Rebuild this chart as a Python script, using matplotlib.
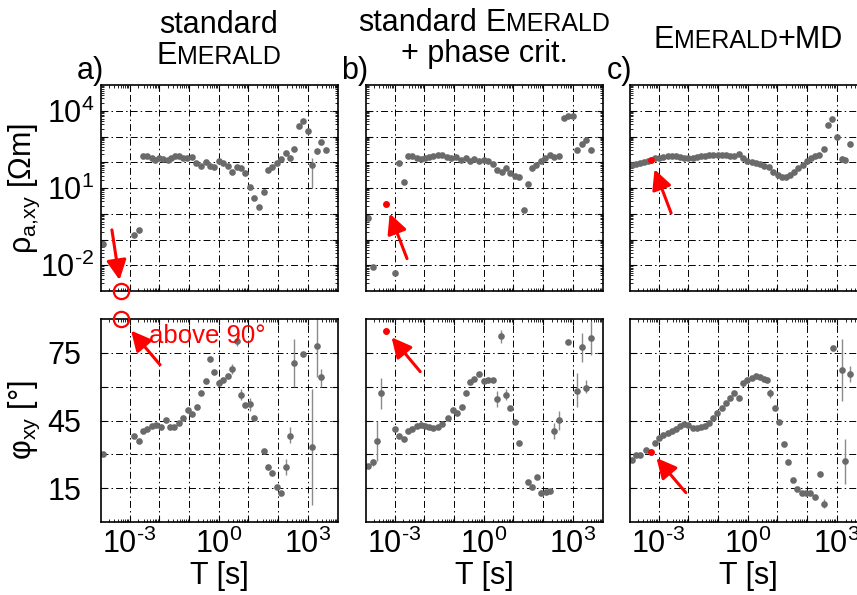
import numpy as np
import matplotlib
matplotlib.use('Agg')
import matplotlib.pyplot as plt
from matplotlib.ticker import FixedLocator, FixedFormatter, LogLocator, NullFormatter

plt.rcParams['font.family'] = ['Liberation Sans', 'DejaVu Sans']
plt.rcParams['font.size'] = 22
plt.rcParams['mathtext.fontset'] = 'custom'
plt.rcParams['mathtext.rm'] = 'Liberation Sans'
plt.rcParams['mathtext.it'] = 'Liberation Sans:italic'
plt.rcParams['mathtext.bf'] = 'Liberation Sans:bold'
plt.rcParams['lines.scale_dashes'] = False

# ---- data (log10 of period T, log10 of rho, phase in degrees) ----
a_rho_T = [-3.88, -2.84, -2.68, -2.56, -2.40, -2.25, -2.14, -2.01, -1.86, -1.71, -1.60, -1.47,
           -1.32, -1.19, -1.05, -0.91, -0.76, -0.59, -0.44, -0.29, -0.14, 0.01, 0.16, 0.31,
           0.46, 0.61, 0.75, 0.90, 1.06, 1.20, 1.35, 1.51, 1.65, 1.80, 1.96, 2.10, 2.25, 2.40,
           2.55, 2.70, 2.85, 3.00, 3.14, 3.30, 3.45, 3.60]
a_rho = [-1.19, -0.82, -0.63, 2.25, 2.25, 2.16, 2.09, 2.15, 2.12, 2.09, 2.16, 2.24,
         2.25, 2.18, 2.15, 2.20, 1.99, 1.86, 2.02, 1.86, 1.82, 2.03, 1.96, 1.86,
         1.63, 1.81, 1.76, 1.60, 1.03, 0.61, 0.28, 0.86, 1.70, 1.83, 1.99, 2.12, 2.35, 2.18,
         2.52, 3.39, 3.61, 3.23, 1.90, 2.42, 2.79, 2.46]
a_rho_bar_T = [2.55, 3.14, 3.30]
a_rho_bar_lo = [2.45, 0.99, 2.33]
a_rho_bar_hi = [2.60, 2.16, 2.50]

b_rho_T = [-3.88, -3.74, -3.00, -2.84, -2.68, -2.56, -2.40, -2.25, -2.12, -1.97, -1.84, -1.69,
           -1.55, -1.39, -1.24, -1.10, -0.94, -0.76, -0.59, -0.46, -0.31, -0.14, 0.01, 0.16,
           0.31, 0.44, 0.61, 0.75, 0.90, 1.06, 1.20, 1.35, 1.48, 1.62, 1.77, 1.92, 2.07, 2.22,
           2.38, 2.54, 2.70, 2.85, 3.00, 3.14, 3.30, 3.45, 3.60]
b_rho = [-0.15, -2.06, -2.29, 1.96, 1.22, 2.25, 2.25, 2.16, 2.12, 2.15, 2.20, 2.25,
         2.27, 2.30, 2.22, 2.17, 2.22, 2.09, 2.17, 2.03, 2.12, 2.04, 2.07, 2.03,
         1.94, 1.70, 1.63, 1.78, 1.60, 1.47, 1.44, 0.15, 1.16, 1.78, 1.89, 2.03, 2.15, 2.27,
         2.22, 2.25, 3.73, 3.81, 3.81, 2.46, 2.70, 2.87, 2.46]
b_rho_bar_T = []
b_rho_bar_lo = []
b_rho_bar_hi = []

c_rho_T = [-3.90, -3.77, -3.62, -3.48, -3.34, -3.12, -2.97, -2.84, -2.69, -2.56, -2.41, -2.28,
           -2.13, -2.00, -1.85, -1.71, -1.57, -1.43, -1.29, -1.15, -1.01, -0.87, -0.73, -0.59,
           -0.45, -0.28, -0.14, -0.01, 0.14, 0.28, 0.43, 0.56, 0.72, 0.86, 1.01, 1.15, 1.28,
           1.43, 1.56, 1.71, 1.85, 1.99, 2.13, 2.27, 2.41, 2.56, 2.70, 2.85, 3.00, 3.17, 3.28, 3.46]
c_rho = [1.89, 1.94, 1.98, 2.02, 2.04, 2.15, 2.18, 2.22, 2.25, 2.25, 2.24, 2.21,
         2.18, 2.16, 2.16, 2.20, 2.24, 2.26, 2.27, 2.29, 2.29, 2.29, 2.27, 2.26,
         2.24, 2.33, 2.15, 2.05, 2.00, 1.96, 1.92, 1.87, 1.81, 1.64, 1.51, 1.44, 1.42,
         1.51, 1.63, 1.76, 1.89, 2.03, 2.15, 2.25, 2.29, 2.51, 3.46, 3.69, 2.98, 2.13, 2.09, 2.70]
c_rho_bar_T = [3.17]
c_rho_bar_lo = [2.00]
c_rho_bar_hi = [2.25]

a_phi_T = [-3.88, -2.84, -2.68, -2.53, -2.40, -2.25, -2.12, -1.95, -1.78, -1.64, -1.49, -1.34,
           -1.19, -1.04, -0.90, -0.74, -0.59, -0.44, -0.29, -0.14, 0.01, 0.16, 0.31, 0.46,
           0.61, 0.75, 0.90, 1.06, 1.20, 1.51, 1.65, 1.80, 1.96, 2.10, 2.25, 2.40, 2.55, 2.85,
           3.14, 3.30, 3.45]
a_phi = [30.2, 38.3, 36.1, 40.4, 41.3, 42.6, 43.0, 42.3, 45.2, 42.0, 42.3, 43.8,
         46.0, 49.7, 47.8, 51.2, 57.4, 62.5, 72.1, 66.5, 61.8, 63.0, 64.7, 67.7,
         80.3, 56.3, 51.9, 52.5, 46.0, 31.5, 24.6, 21.9, 15.4, 12.7, 24.6, 38.2, 70.4, 74.5,
         33.1, 78.0, 64.2]
a_phi_bar_T = [0.46, 0.61, 0.75, 1.06, 2.25, 2.40, 2.55, 3.14, 3.30, 3.45]
a_phi_bar_lo = [65.5, 78, 54, 49, 21, 35, 60, 7.6, 64.4, 60]
a_phi_bar_hi = [70, 83, 59, 55, 28, 42, 81, 58.8, 90, 68]

b_phi_T = [-3.90, -3.74, -3.59, -3.44, -3.00, -2.84, -2.68, -2.56, -2.40, -2.25, -2.12, -1.97,
           -1.84, -1.69, -1.55, -1.39, -1.19, -1.04, -0.90, -0.74, -0.59, -0.46, -0.31, -0.14,
           0.00, 0.16, 0.31, 0.44, 0.59, 0.75, 0.89, 1.05, 1.20, 1.49, 1.64, 1.79, 1.93, 2.09,
           2.24, 2.38, 2.54, 2.83, 3.14, 3.30, 3.44, 3.60]
b_phi = [25.0, 26.5, 35.9, 57.1, 41.3, 38.3, 36.7, 40.4, 41.4, 42.7, 43.0, 42.6,
         42.0, 41.8, 42.0, 43.3, 46.0, 49.7, 48.5, 51.0, 57.1, 62.1, 63.3, 65.6,
         62.4, 63.0, 63.0, 54.7, 82.5, 56.3, 50.6, 44.5, 34.9, 17.9, 15.7, 20.1, 12.7, 13.5,
         13.9, 40.4, 45.2, 79.8, 58.2, 77.7, 59.6, 81.6]
b_phi_bar_T = [-3.74, -3.59, -3.44, 0.44, 0.59, 0.75, 2.38, 2.54, 3.14, 3.30, 3.44, 3.60]
b_phi_bar_lo = [25, 27.2, 50, 51, 79.5, 54, 37, 41, 51, 71, 57, 74]
b_phi_bar_hi = [28, 44.6, 64, 58, 85, 59, 44, 49, 66, 84, 63, 89]

c_phi_T = [-3.90, -3.77, -3.62, -3.43, -3.12, -2.97, -2.84, -2.69, -2.56, -2.41, -2.28, -2.13,
           -2.00, -1.85, -1.71, -1.57, -1.43, -1.30, -1.17, -1.03, -0.87, -0.72, -0.58, -0.45,
           -0.29, -0.14, -0.01, 0.14, 0.28, 0.43, 0.56, 0.64, 0.76, 0.93, 1.07, 1.22, 1.36,
           1.52, 1.67, 1.82, 1.97, 2.11, 2.27, 2.42, 2.57, 2.86, 3.16, 3.29, 3.46]
c_phi = [27.5, 29.7, 29.7, 31.7, 34.9, 37.1, 38.4, 39.3, 40.4, 41.4, 42.6, 43.3,
         42.9, 41.8, 41.8, 42.0, 42.6, 44.1, 46.3, 48.2, 50.7, 52.9, 55.1, 57.4,
         55.1, 61.5, 63.0, 64.0, 64.7, 64.4, 63.6, 63.0, 57.1, 50.7, 44.5, 34.6, 26.8,
         18.5, 14.8, 13.0, 13.0, 13.0, 11.0, 21.2, 7.9, 77.0, 67.4, 26.9, 65.6]
c_phi_bar_T = [0.76, 2.57, 3.16, 3.29, 3.46]
c_phi_bar_lo = [55, 6, 53.7, 17, 62]
c_phi_bar_hi = [59, 10, 81, 36.8, 69]

# highlighted (red) samples
red_T = [-3.28, -3.28, -3.25]
red_rho = [None, 0.36, 2.08]     # a) is below the plotted range
red_phi = [None, 84.7, 31.2]     # a) is above 90 degrees

panel_letters = ['a)', 'b)', 'c)']
x_ticks = [-3, -2, -1, 0, 1, 2, 3]
x_labels = ['$\\mathregular{10^{\\text{-}3}}$', '', '', '$\\mathregular{10^{0}}$', '', '',
            '$\\mathregular{10^{3}}$']
rho_ticks = [-2, -1, 0, 1, 2, 3, 4]
rho_labels = ['$\\mathregular{10^{\\text{-}2}}$', '', '', '$\\mathregular{10^{1}}$', '', '',
              '$\\mathregular{10^{4}}$']
phi_ticks = [15, 30, 45, 60, 75]
phi_labels = ['15', '', '45', '', '75']

rho_sets = [(a_rho_T, a_rho, a_rho_bar_T, a_rho_bar_lo, a_rho_bar_hi),
            (b_rho_T, b_rho, b_rho_bar_T, b_rho_bar_lo, b_rho_bar_hi),
            (c_rho_T, c_rho, c_rho_bar_T, c_rho_bar_lo, c_rho_bar_hi)]
phi_sets = [(a_phi_T, a_phi, a_phi_bar_T, a_phi_bar_lo, a_phi_bar_hi),
            (b_phi_T, b_phi, b_phi_bar_T, b_phi_bar_lo, b_phi_bar_hi),
            (c_phi_T, c_phi, c_phi_bar_T, c_phi_bar_lo, c_phi_bar_hi)]

W, H = 857.0, 595.0
gray = '#6a6a6a'
bar_gray = '#8a8a8a'
grid_dash = (0, (5, 2.2, 1.1, 2.2))

fig = plt.figure(figsize=(W / 100, H / 100), dpi=100)


def style(ax, logy):
    ax.set_xscale('log')
    ax.set_xlim(10 ** -3.96, 1e4)
    ax.xaxis.set_major_locator(FixedLocator([10.0 ** k for k in x_ticks]))
    ax.xaxis.set_major_formatter(FixedFormatter(x_labels))
    ax.xaxis.set_minor_locator(LogLocator(base=10, subs=np.arange(2, 10), numticks=20))
    ax.xaxis.set_minor_formatter(NullFormatter())
    if logy:
        ax.set_yscale('log')
        ax.set_ylim(1e-3, 1e5)
        ax.yaxis.set_major_locator(FixedLocator([10.0 ** k for k in rho_ticks]))
        ax.yaxis.set_major_formatter(FixedFormatter(rho_labels))
        ax.yaxis.set_minor_locator(LogLocator(base=10, subs=np.arange(2, 10), numticks=20))
        ax.yaxis.set_minor_formatter(NullFormatter())
    else:
        ax.set_ylim(0, 90)
        ax.yaxis.set_major_locator(FixedLocator(phi_ticks))
        ax.yaxis.set_major_formatter(FixedFormatter(phi_labels))
    ax.tick_params(which='both', direction='in', top=True, right=True, labelsize=22)
    ax.tick_params(which='major', length=4, width=0.8)
    ax.tick_params(which='minor', length=2, width=0.6)
    ax.tick_params(axis='x', pad=5)
    ax.grid(True, which='major', color='black', lw=0.7, linestyle=grid_dash)
    for s in ax.spines.values():
        s.set_linewidth(1.2)


lefts = [101, 366, 630]
axw = 236.5
top_ax = []
bot_ax = []
for i in range(3):
    ax1 = fig.add_axes([lefts[i] / W, 1 - 291 / H, axw / W, 206 / H])
    ax2 = fig.add_axes([lefts[i] / W, 1 - 522 / H, axw / W, 203 / H])
    style(ax1, True)
    style(ax2, False)

    T, v, bT, blo, bhi = rho_sets[i]
    ax1.vlines(10.0 ** np.array(bT), 10.0 ** np.array(blo), 10.0 ** np.array(bhi), color=bar_gray, lw=1)
    ax1.plot(10.0 ** np.array(T), 10.0 ** np.array(v), 'o', color=gray, ms=4.8, mec='none')

    T, v, bT, blo, bhi = phi_sets[i]
    ax2.vlines(10.0 ** np.array(bT), blo, bhi, color=bar_gray, lw=1)
    ax2.plot(10.0 ** np.array(T), v, 'o', color=gray, ms=4.8, mec='none')

    if i > 0:
        ax1.tick_params(labelleft=False)
        ax2.tick_params(labelleft=False)
        ax2.tick_params(axis='y', pad=12)
    ax1.tick_params(labelbottom=False)
    ax2.set_xlabel('T [s]', fontsize=22)
    ax2.xaxis.set_label_coords(0.5, -0.19)
    top_ax.append(ax1)
    bot_ax.append(ax2)
    fig.text((lefts[i] - 11) / W, 1 - 79 / H, panel_letters[i], fontsize=22, ha='center', va='baseline')

top_ax[0].set_ylabel('ρ$_{\\mathregular{a{,}xy}}$ [Ωm]', fontsize=22)
top_ax[0].yaxis.set_label_coords(-0.25, 0.5)
top_ax[0].tick_params(axis='y', pad=5)
bot_ax[0].set_ylabel('φ$_{\\mathregular{xy}}$ [°]', fontsize=22)
bot_ax[0].yaxis.set_label_coords(-0.25, 0.5)
bot_ax[0].tick_params(axis='y', pad=14)

arrow = dict(arrowstyle='-|>,head_length=0.6,head_width=0.3', color='red', lw=2.2,
             mutation_scale=20, shrinkA=0)

# a) out-of-range samples: hollow red circles on the frame
ta = 10.0 ** red_T[0]
top_ax[0].plot([ta], [1e-3], 'o', mfc='none', mec='red', ms=11, mew=1.6, clip_on=False, zorder=5)
top_ax[0].annotate('', xy=(ta, 1e-3), xytext=(-6.7, 44), textcoords='offset points',
                   arrowprops=dict(arrow, shrinkB=8), annotation_clip=False)
bot_ax[0].plot([ta], [90], 'o', mfc='none', mec='red', ms=11, mew=1.6, clip_on=False, zorder=5)
bot_ax[0].annotate('', xy=(ta, 90), xytext=(28, -33), textcoords='offset points',
                   arrowprops=dict(arrow, shrinkB=11), annotation_clip=False)
bot_ax[0].annotate('above 90°', xy=(ta, 90), xytext=(20, -17.5), textcoords='offset points',
                   color='red', fontsize=18.5, ha='left', va='baseline', annotation_clip=False)

# b) and c) highlighted samples
offs_top = [None, (15, -39), (14.4, -38)]
offs_bot = [None, (24.5, -29.3), (25, -29.5)]
for i in (1, 2):
    t = 10.0 ** red_T[i]
    top_ax[i].plot([t], [10.0 ** red_rho[i]], 'o', color='red', ms=5, mec='none', zorder=5)
    top_ax[i].annotate('', xy=(t, 10.0 ** red_rho[i]), xytext=offs_top[i], textcoords='offset points',
                       arrowprops=dict(arrow, shrinkB=7))
    bot_ax[i].plot([t], [red_phi[i]], 'o', color='red', ms=5, mec='none', zorder=5)
    bot_ax[i].annotate('', xy=(t, red_phi[i]), xytext=offs_bot[i], textcoords='offset points',
                       arrowprops=dict(arrow, shrinkB=6))


# titles with small-caps "EMERALD"
def caps_line(xc, y_base, parts):
    r = fig.canvas.get_renderer()
    items = []
    for s, fs in parts:
        if s == ' ':
            items.append((None, fs))
            continue
        t = fig.text(0, 1 - y_base / H, s, fontsize=fs, ha='left', va='baseline')
        items.append((t, t.get_window_extent(r).width))
    x = xc - sum(w for _, w in items) / 2
    for t, w in items:
        if t is not None:
            t.set_x(x / W)
        x += w


big, small = 22, 18
caps_line(219, 33, [('standard', big)])
caps_line(219, 64, [('E', big), ('MERALD', small)])
caps_line(484, 31, [('standard', big), (' ', 8), ('E', big), ('MERALD', small)])
caps_line(484, 62, [('+ phase crit.', big)])
caps_line(748, 48, [('E', big), ('MERALD', small), ('+MD', big)])

fig.savefig('out.png', dpi=100)
